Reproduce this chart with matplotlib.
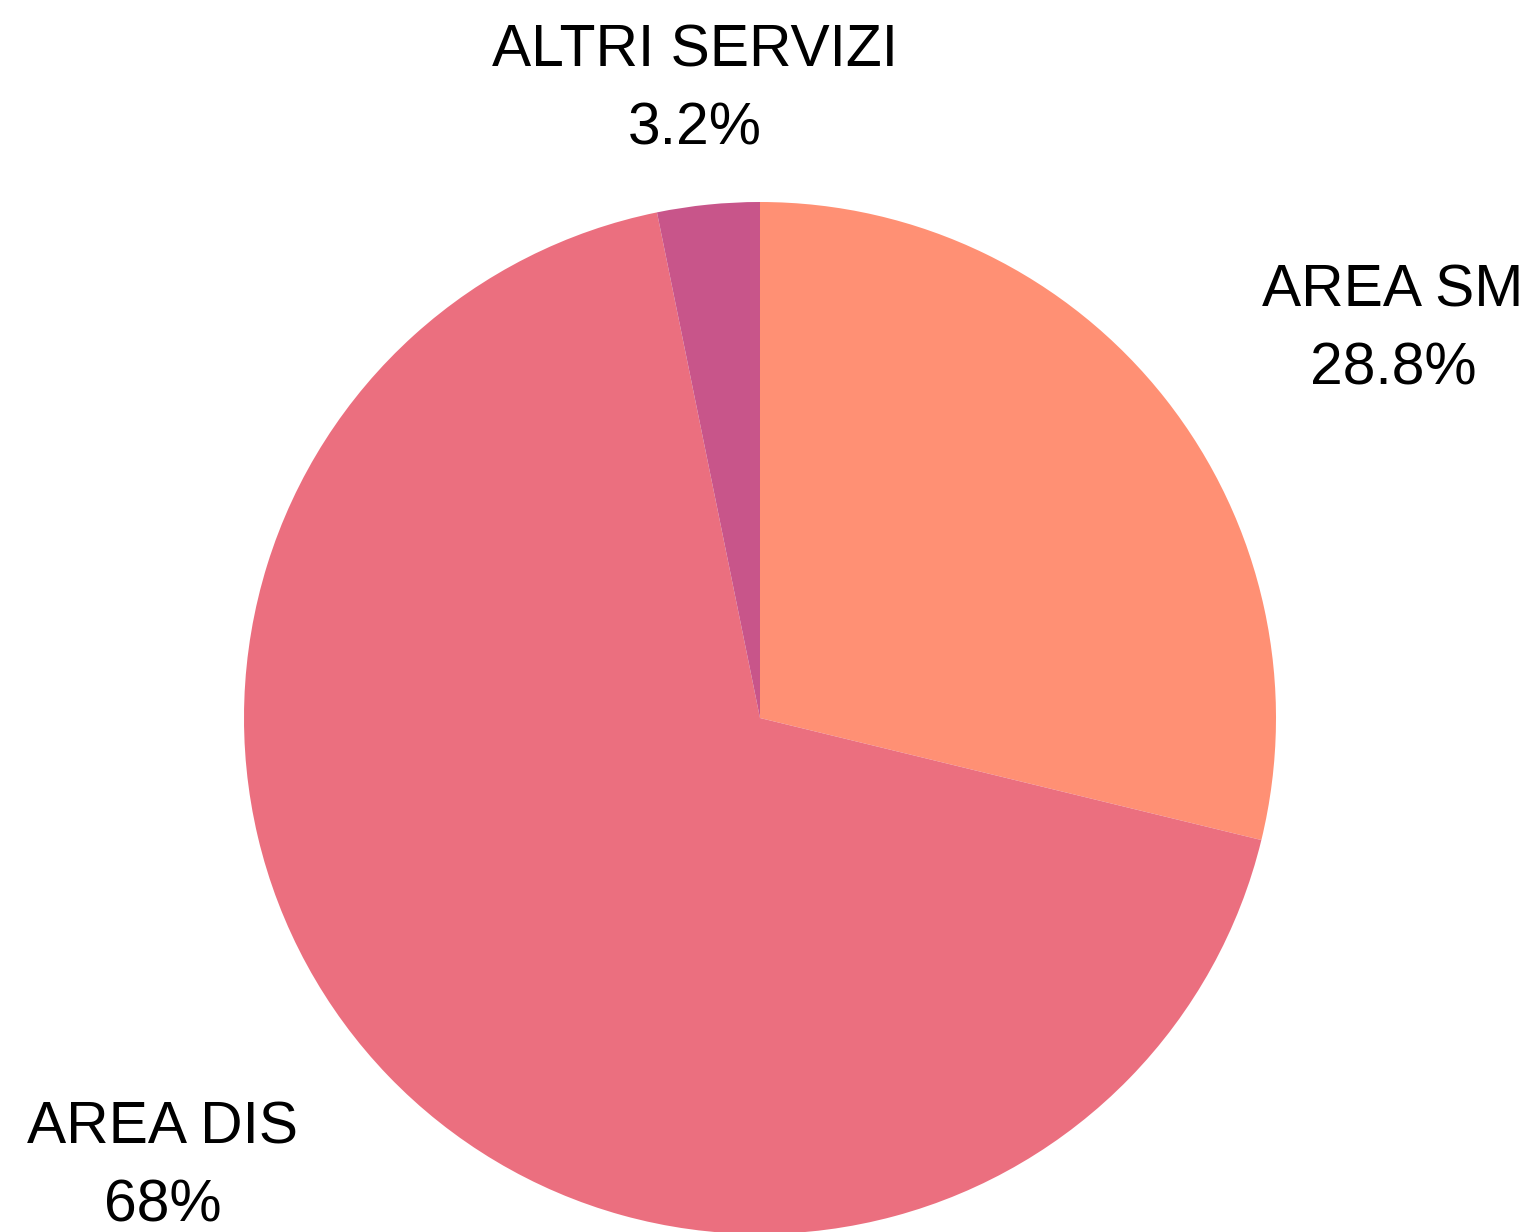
import numpy as np
import matplotlib.pyplot as plt

plt.rcParams['font.family'] = ['Liberation Sans', 'DejaVu Sans']

# dati
categorie = ["AREA SM", "AREA DIS", "ALTRI SERVIZI"]
valori = [28.8, 68.0, 3.2]
etichette_pct = ["28.8%", "68%", "3.2%"]
colori = ["#FF9074", "#EB6F7F", "#C8558A"]

# posizione delle etichette (in unità di raggio)
pos_etichette = [(1.227, 0.752), (-1.157, -0.870), (-0.126, 1.217)]

fig = plt.figure(figsize=(15.37, 12.32), dpi=100)
ax = fig.add_axes([0, 0, 1, 1])

ax.pie(valori, colors=colori, startangle=90, counterclock=False,
       radius=1.0, wedgeprops=dict(linewidth=0))

for nome, pct, (x, y) in zip(categorie, etichette_pct, pos_etichette):
    ax.text(x, y, f"{nome}\n{pct}", ha="center", va="center",
            fontsize=42.3, linespacing=1.52, color="black")

# centro (760, 718) px, raggio 516 px
r = 516
ax.set_xlim(-760 / r, (1537 - 760) / r)
ax.set_ylim(-(1232 - 718) / r, 718 / r)
ax.set_aspect("auto")
ax.axis("off")

fig.savefig("out.png", dpi=100)
